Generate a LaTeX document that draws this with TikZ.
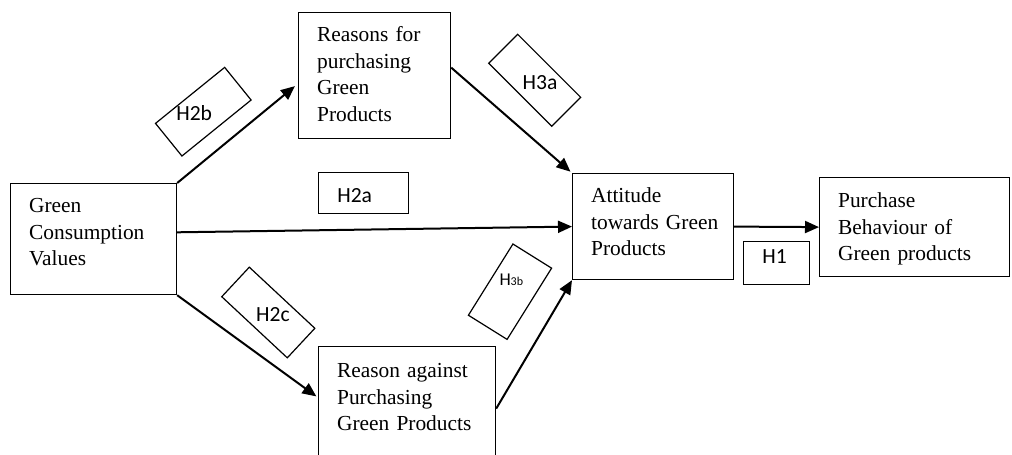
\documentclass[tikz,border=0pt]{standalone}
\usepackage{fontspec}
\setmainfont{Liberation Serif}
\newfontfamily\lblfont{Carlito}
\usetikzlibrary{arrows.meta,calc}
\tikzset{
  conbox/.style={draw, line width=0.6pt, anchor=north west, inner ysep=0pt,
                 inner xsep=9.25pt, align=left, font=\fontsize{10.7}{13.3}\selectfont},
  hypbox/.style={draw, line width=0.6pt, anchor=north west, inner ysep=0pt,
                 inner xsep=9.35pt, align=left, font=\lblfont\fontsize{10.8}{13}\selectfont},
  tiltbox/.style={draw, line width=0.6pt, inner sep=0pt},
  tilttext/.style={font=\lblfont\fontsize{10.8}{13}\selectfont, anchor=base, inner sep=0pt},
  arrow/.style={-{Triangle[length=7pt,width=6pt]}, line width=1pt},
}

\begin{document}
\begin{tikzpicture}[x=0.5pt,y=-0.5pt]
  \useasboundingbox (0,0) rectangle (1012,455);

  % Constructs
  \node[conbox, text width=64.5pt, text height=14.5pt, text depth=41pt] (gcv) at (10,183)
        {Green\\Consumption\\Values};
  \node[conbox, text width=57.5pt, text height=14.5pt, text depth=48.5pt] (rsn) at (298,12)
        {Reasons~for\\purchasing\\Green\\Products};
  \node[conbox, text width=70pt, text height=15.5pt, text depth=46.5pt] (agn) at (318,346)
        {Reason~against\\Purchasing\\Green~Products};
  \node[conbox, text width=62pt, text height=14.5pt, text depth=38.5pt] (att) at (572,173)
        {Attitude\\towards~Green\\Products};
  \node[conbox, text width=76.5pt, text height=15pt, text depth=34.5pt] (pur) at (819,177)
        {Purchase\\Behaviour~of\\Green~products};

  % Hypothesis labels
  \node[hypbox, text width=26.3pt, text height=14.85pt, text depth=5.65pt] (h2a) at (318,172) {H2a};
  \node[hypbox, text width=14.3pt, text height=11.15pt, text depth=10.35pt] (h1) at (743,241) {H1};

  \node[tiltbox, rotate=39, minimum width=44.5pt, minimum height=21pt] (h2bbox) at (203.3,111.7) {};
  \node[tilttext] (h2b) at (194.2,120.7) {H2b};
  \node[tiltbox, rotate=-45, minimum width=44.5pt, minimum height=20.5pt] (h3abox) at (534.7,80.3) {};
  \node[tilttext] (h3a) at (540,89.3) {H3a};
  \node[tiltbox, rotate=-43, minimum width=44.8pt, minimum height=20.2pt] (h2cbox) at (268.3,312.5) {};
  \node[tilttext] (h2c) at (273,321.7) {H2c};
  \node[tiltbox, rotate=58, minimum width=42pt, minimum height=22.8pt] (h3bbox) at (510,291.7) {};
  \node[tilttext, font=\lblfont\fontsize{9}{11}\selectfont] (h3b) at (511.3,285)
        {H{\fontsize{6}{7}\selectfont 3b}};

  % Paths
  \draw[arrow, shorten >=2pt] (gcv.north east) -- ([yshift=-4pt]rsn.west);
  \draw[arrow, shorten >=1pt] ([yshift=4pt]rsn.east) -- (att.north west);
  \draw[arrow] ([yshift=3.4pt]gcv.east) -- (att.west);
  \draw[arrow, shorten >=1pt] (gcv.south east) -- ([yshift=5.5pt]agn.west);
  \draw[arrow] (agn.east) -- (att.south west);
  \draw[arrow] (att.east) -- (pur.west);

\end{tikzpicture}
\end{document}
